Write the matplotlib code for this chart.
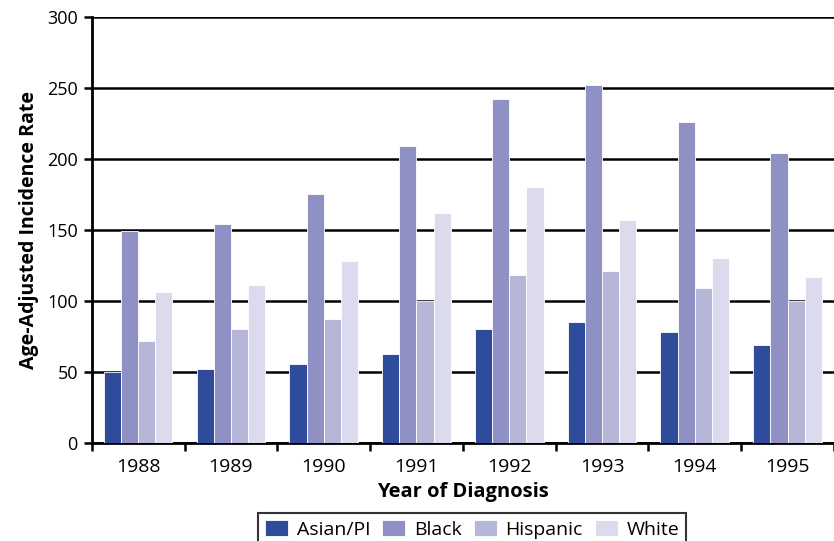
import numpy as np
import matplotlib.pyplot as plt
from matplotlib.ticker import FixedLocator, NullFormatter

plt.rcParams['font.family'] = ['Open Sans', 'DejaVu Sans']

# data
years = ['1988', '1989', '1990', '1991', '1992', '1993', '1994', '1995']
asian = [50, 52, 56, 63, 80, 85, 78, 69]
black = [149, 154, 175, 209, 242, 252, 226, 204]
hispanic = [72, 80, 87, 100, 118, 121, 109, 100]
white = [106, 111, 128, 162, 180, 157, 130, 117]

series = [('Asian/PI', asian, '#2f4b9b'),
          ('Black', black, '#8f91c4'),
          ('Hispanic', hispanic, '#b6b6d9'),
          ('White', white, '#dcdaed')]

fig = plt.figure(figsize=(8.34, 5.41), dpi=100)
ax = fig.add_axes([0.110, 0.181, 0.890, 0.788])

x = np.arange(len(years))
w = 0.185
for i, (name, vals, col) in enumerate(series):
    ax.bar(x + (i - 1.5) * w, vals, w, color=col, edgecolor='white',
           linewidth=0.6, label=name, zorder=3)

ax.set_ylim(0, 300)
ax.set_yticks(range(0, 301, 50))
ax.set_xlim(-0.5, len(years) - 0.5)
ax.grid(axis='y', color='black', linewidth=1.8, zorder=1)

ax.set_xticks(x)
ax.set_xticklabels(years)
ax.tick_params(axis='x', which='major', length=0, pad=11, labelsize=14)
ax.xaxis.set_minor_locator(FixedLocator(np.arange(-0.5, len(years), 1.0)))
ax.xaxis.set_minor_formatter(NullFormatter())
ax.tick_params(axis='x', which='minor', length=6, width=1.8, direction='out')
ax.tick_params(axis='y', length=6, width=1.8, direction='out', labelsize=13, pad=4)

for s in ['top', 'right']:
    ax.spines[s].set_visible(False)
ax.spines['left'].set_linewidth(2)
ax.spines['bottom'].set_linewidth(2)

ax.set_ylabel('Age-Adjusted Incidence Rate', fontsize=14, fontweight='bold', labelpad=6)
ax.set_xlabel('Year of Diagnosis', fontsize=14.5, fontweight='bold', labelpad=4)

handles, labels = ax.get_legend_handles_labels()
leg = fig.legend(handles, labels, loc='upper center', bbox_to_anchor=(0.566, 1 - 513 / 541),
                 bbox_transform=fig.transFigure, ncol=4,
                 frameon=True, fancybox=False, edgecolor='black', fontsize=14,
                 handlelength=1.2, handleheight=0.9, handletextpad=0.45,
                 columnspacing=0.6, borderpad=0.35, borderaxespad=0)
leg.get_frame().set_linewidth(1.5)

fig.savefig('out.png', dpi=100)
